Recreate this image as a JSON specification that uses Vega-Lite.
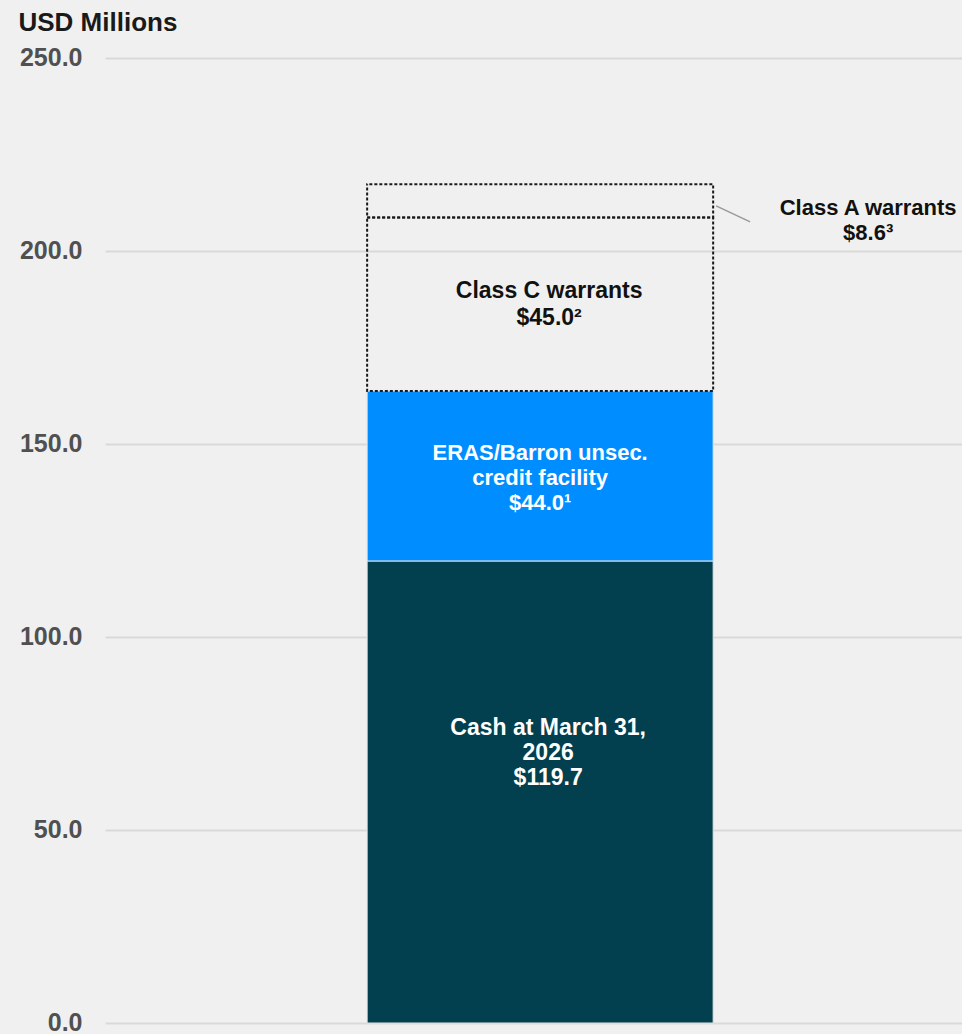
{
  "$schema": "https://vega.github.io/schema/vega-lite/v6.json",
  "width": 857,
  "height": 965,
  "autosize": {"type": "none"},
  "padding": {"left": 105, "top": 58, "right": 0, "bottom": 11},
  "background": "#f0f0f0",
  "config": {
    "view": {"stroke": null},
    "font": "Liberation Sans",
    "axisY": {"tickCount": 5, "format": ".1f", "domain": false, "ticks": false, "grid": true, "gridColor": "#d9d9d9", "gridWidth": 2,
      "labelFont": "Liberation Sans", "labelFontSize": 25, "labelFontWeight": "bold", "labelColor": "#505050", "labelPadding": 23, "labelOffset": -1,
      "titleAngle": 0, "titleAlign": "left", "titleBaseline": "middle", "titleX": -87, "titleY": -36,
      "titleFont": "Liberation Sans", "titleFontSize": 26, "titleFontWeight": "bold", "titleColor": "#1a1a1a"}
  },
  "data": {"values": [
    {"group": "Liquidity", "component": "Cash at March 31, 2026", "value": 119.7, "rank": 1, "kind": "funded", "label": ["Cash at March 31,", "2026", "$119.7"]},
    {"group": "Liquidity", "component": "ERAS/Barron unsec. credit facility", "value": 44.0, "rank": 2, "kind": "funded", "label": ["ERAS/Barron unsec.", "credit facility", "$44.0¹"]},
    {"group": "Liquidity", "component": "Class C warrants", "value": 45.0, "rank": 3, "kind": "warrant", "label": ["Class C warrants", "$45.0²"]},
    {"group": "Liquidity", "component": "Class A warrants", "value": 8.6, "rank": 4, "kind": "warrant", "label": ["Class A warrants", "$8.6³"]}
  ]},
  "transform": [
    {"stack": "value", "groupby": ["group"], "sort": [{"field": "rank", "order": "ascending"}], "as": ["lo", "hi"]},
    {"calculate": "(datum.lo + datum.hi) / 2", "as": "mid"}
  ],
  "encoding": {
    "x": {"field": "group", "type": "nominal", "scale": {"paddingInner": 0, "paddingOuter": 0.7384, "align": 0.513}, "axis": null}
  },
  "layer": [
    {
      "transform": [{"filter": "datum.kind == 'funded'"}],
      "mark": {"type": "bar", "stroke": "#e4e4e4", "strokeWidth": 1},
      "encoding": {
        "y": {"field": "lo", "type": "quantitative", "scale": {"domain": [0, 250], "nice": false, "zero": true}, "title": "USD Millions"},
        "y2": {"field": "hi"},
        "color": {"field": "component", "type": "nominal", "scale": {"domain": ["Cash at March 31, 2026", "ERAS/Barron unsec. credit facility"], "range": ["#03404f", "#008dff"]}, "legend": null}
      }
    },
    {
      "transform": [{"filter": "datum.rank == 3"}],
      "mark": {"type": "bar", "fillOpacity": 0, "fill": "#f0f0f0", "stroke": "#1a1a1a", "strokeWidth": 2, "strokeDash": [3, 2]},
      "encoding": {
        "y": {"field": "lo", "type": "quantitative", "title": "USD Millions"},
        "y2": {"field": "hi"}
      }
    },
    {
      "transform": [{"filter": "datum.rank == 4"}],
      "mark": {"type": "bar", "fillOpacity": 0, "fill": "#f0f0f0", "stroke": "#1a1a1a", "strokeWidth": 2, "strokeDash": [3, 2], "strokeDashOffset": 2.8},
      "encoding": {
        "y": {"field": "lo", "type": "quantitative", "title": "USD Millions"},
        "y2": {"field": "hi"}
      }
    },
    {
      "transform": [{"filter": "datum.rank == 1"}],
      "mark": {"type": "text", "font": "Liberation Sans", "fontSize": 23, "fontWeight": "bold", "lineHeight": 25, "color": "#ffffff", "baseline": "middle", "align": "center", "dx": 8, "dy": -64},
      "encoding": {"y": {"field": "mid", "type": "quantitative", "title": "USD Millions"}, "text": {"field": "label"}}
    },
    {
      "transform": [{"filter": "datum.rank == 2"}],
      "mark": {"type": "text", "font": "Liberation Sans", "fontSize": 22, "fontWeight": "bold", "lineHeight": 25, "color": "#ffffff", "baseline": "middle", "align": "center", "dy": -23},
      "encoding": {"y": {"field": "mid", "type": "quantitative", "title": "USD Millions"}, "text": {"field": "label"}}
    },
    {
      "transform": [{"filter": "datum.rank == 3"}],
      "mark": {"type": "text", "font": "Liberation Sans", "fontSize": 23, "fontWeight": "bold", "lineHeight": 27, "color": "#111111", "baseline": "middle", "align": "center", "dx": 9, "dy": -13},
      "encoding": {"y": {"field": "mid", "type": "quantitative", "title": "USD Millions"}, "text": {"field": "label"}}
    },
    {
      "transform": [{"filter": "datum.rank == 4"}],
      "mark": {"type": "text", "font": "Liberation Sans", "fontSize": 22, "fontWeight": "bold", "lineHeight": 25, "color": "#111111", "baseline": "middle", "align": "center", "dx": 328, "dy": 7},
      "encoding": {"y": {"field": "mid", "type": "quantitative", "title": "USD Millions"}, "text": {"field": "label"}}
    },
    {
      "transform": [{"filter": "datum.rank == 4"}],
      "mark": {"type": "rule", "stroke": "#9a9a9a", "strokeWidth": 1.5, "xOffset": 176, "x2Offset": 210, "yOffset": 5, "y2Offset": 21},
      "encoding": {
        "x2": {"field": "group"},
        "y": {"field": "mid", "type": "quantitative", "title": "USD Millions"},
        "y2": {"field": "mid"}
      }
    }
  ]
}
